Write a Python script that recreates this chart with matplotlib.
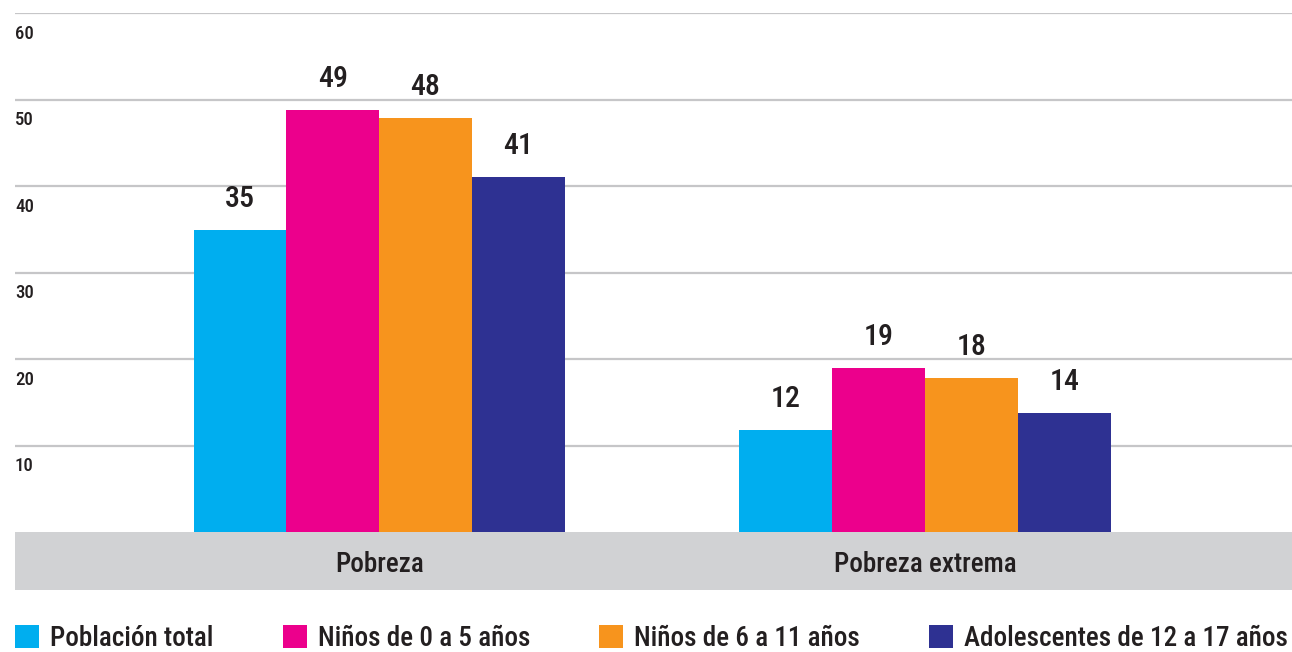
import numpy as np
import matplotlib
matplotlib.use("Agg")
import matplotlib.pyplot as plt
from matplotlib.patches import Rectangle

plt.rcParams['font.family'] = ['Roboto Condensed', 'DejaVu Sans']
plt.rcParams['font.weight'] = 'medium'

categories = ['Pobreza', 'Pobreza extrema']
series = ['Población total', 'Niños de 0 a 5 años', 'Niños de 6 a 11 años',
          'Adolescentes de 12 a 17 años']
values = [
    [34.9, 11.8],   # Población total
    [48.8, 19.0],   # Niños de 0 a 5 años
    [47.9, 17.8],   # Niños de 6 a 11 años
    [41.0, 13.8],   # Adolescentes de 12 a 17 años
]
labels = [
    ['35', '12'],
    ['49', '19'],
    ['48', '18'],
    ['41', '14'],
]
colors = ['#00aeef', '#ec008c', '#f7941d', '#2e3192']
yticks = [10, 20, 30, 40, 50, 60]

W, H = 1292, 652
fig = plt.figure(figsize=(W / 100, H / 100), dpi=100)
ax = fig.add_axes([15 / W, 1 - 532 / H, 1 - 15 / W, (532 - 13) / H])
ax.set_xlim(-0.667, 1.672)
ax.set_ylim(0, 60)

txt = '#231f20'
for v in yticks:
    ax.axhline(v, color='#c6c6c8', lw=1.6, zorder=0)
    ax.annotate(str(v), xy=(0, v), xycoords=('axes fraction', 'data'),
                xytext=(0, -18.7), textcoords='offset points',
                ha='left', va='baseline', fontsize=13.5, color=txt)

x = np.arange(len(categories))
w = 0.17
handles = []
for i, (name, vals) in enumerate(zip(series, values)):
    pos = x + (i - 1.5) * w
    b = ax.bar(pos, vals, w, color=colors[i], label=name, zorder=2)
    handles.append(b)
    for p, v, lab in zip(pos, vals, labels[i]):
        ax.annotate(lab, xy=(p, v), xytext=(0, 16.5), textcoords='offset points',
                    ha='center', va='baseline', fontsize=21.5, color=txt)

for s in ax.spines.values():
    s.set_visible(False)
ax.set_xticks([])
ax.set_yticks([])

# gray category band
band = fig.add_axes([15 / W, 1 - 590 / H, 1 - 15 / W, (590 - 532) / H])
band.set_xlim(ax.get_xlim())
band.set_ylim(0, 1)
band.add_patch(Rectangle((-1, 0), 4, 1, color='#d1d2d4'))
for xi, c in zip(x, categories):
    band.text(xi, 0.31, c, ha='center', va='baseline', fontsize=19.5, color=txt)
band.axis('off')

leg = fig.legend(handles=handles, labels=series, loc='lower left',
                 bbox_to_anchor=(15 / W, 1 - 652 / H, 1 - 19 / W, 30 / H),
                 mode='expand', ncol=4, frameon=False, fontsize=19.5,
                 handlelength=0.9, handleheight=0.9, handletextpad=0.4,
                 borderaxespad=0, borderpad=0)
for t in leg.get_texts():
    t.set_color(txt)

fig.savefig('out.png', dpi=100)
